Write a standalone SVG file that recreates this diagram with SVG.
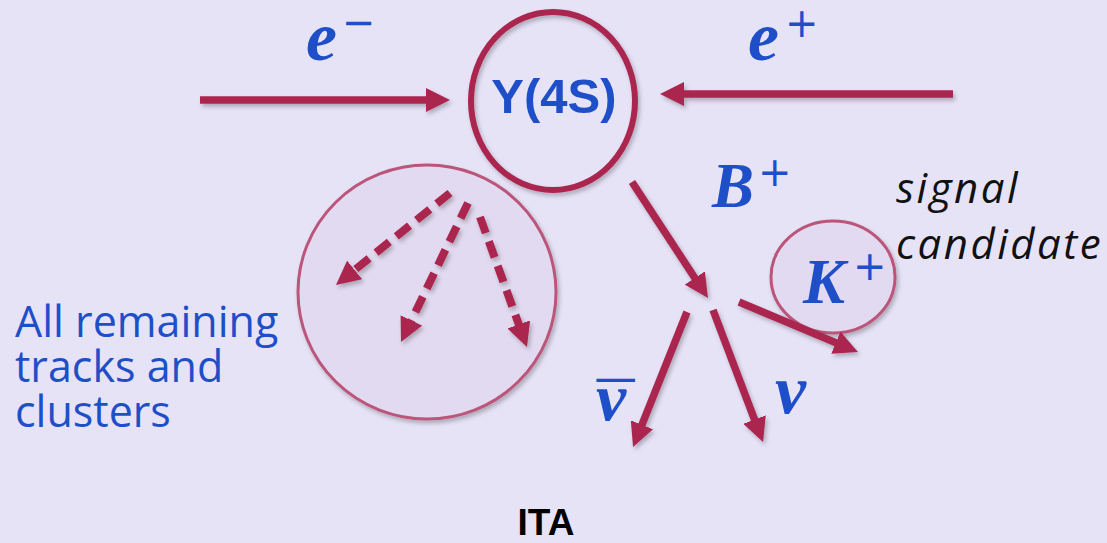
<svg xmlns="http://www.w3.org/2000/svg" width="1107" height="543" viewBox="0 0 1107 543">
  <style>
    .arrow { fill: none; stroke: #ab2650; stroke-width: 7.5; }
    .dash { fill: none; stroke: #ab2650; stroke-width: 8; stroke-dasharray: 17 9; }
    .math { font-family: "Liberation Serif", "Times New Roman", serif; font-weight: bold; font-style: italic; fill: #1e4fc8; }
    .sup { font-family: "DejaVu Sans", sans-serif; font-style: normal; font-weight: normal; fill: #1e4fc8; }
    .label { font-family: "Open Sans", "Noto Sans", sans-serif; fill: #1e4fc8; }
    .note { font-family: "Open Sans", "Noto Sans", sans-serif; font-style: italic; fill: #111111; letter-spacing: 2.5px; }
    .group-circle { fill: #e2daf0; stroke: #bb5579; stroke-width: 3; }
  </style>
  <defs>
    <filter id="shadow" x="-20%" y="-20%" width="140%" height="140%">
      <feDropShadow dx="2" dy="3" stdDeviation="2" flood-color="#000000" flood-opacity="0.25"/>
    </filter>
    <marker id="head" viewBox="0 0 10 10" refX="5" refY="5" markerWidth="24" markerHeight="24" markerUnits="userSpaceOnUse" orient="auto">
      <path d="M0,0 L10,5 L0,10 z" fill="#ab2650"/>
    </marker>
  </defs>
  <rect width="1107" height="543" fill="#e6e3f7"/>

  <g id="remaining" filter="url(#shadow)">
    <ellipse class="group-circle" cx="427" cy="292" rx="129" ry="127"/>
  </g>
  <g id="kaon" filter="url(#shadow)">
    <ellipse class="group-circle" cx="833" cy="277" rx="62" ry="56"/>
  </g>
  <g id="upsilon" filter="url(#shadow)">
    <ellipse cx="553" cy="101" rx="82" ry="89" fill="none" stroke="#ab2650" stroke-width="6"/>
  </g>

  <g id="connectors" filter="url(#shadow)">
    <line class="arrow" x1="200" y1="100" x2="438" y2="100" marker-end="url(#head)"/>
    <line class="arrow" x1="953" y1="94" x2="672" y2="94" marker-end="url(#head)"/>
    <line class="arrow" x1="632" y1="182" x2="701.4" y2="288" marker-end="url(#head)"/>
    <line class="arrow" x1="687" y1="312" x2="637.5" y2="435.9" marker-end="url(#head)"/>
    <line class="arrow" x1="713" y1="310" x2="758.8" y2="430.8" marker-end="url(#head)"/>
    <line class="arrow" x1="739" y1="302" x2="846.9" y2="347.4" marker-end="url(#head)"/>
    <line class="dash" x1="450" y1="193" x2="345.3" y2="277.5" marker-end="url(#head)"/>
    <line class="dash" x1="468" y1="203" x2="406.2" y2="331.2" marker-end="url(#head)"/>
    <line class="dash" x1="480" y1="217" x2="522.9" y2="335.7" marker-end="url(#head)"/>
  </g>

  <g id="labels">
    <text x="554" y="113" font-family="Liberation Sans, Arial, sans-serif" font-weight="bold" font-size="49" fill="#1e4fc8" text-anchor="middle">Υ(4S)</text>

    <text class="math" x="306" y="60" font-size="70">e<tspan class="sup" x="342" y="36" font-size="40">−</tspan></text>

    <text class="math" x="748" y="60" font-size="70">e<tspan class="sup" x="785" y="37" font-size="40">+</tspan></text>

    <text class="math" x="712" y="207" font-size="63">B<tspan class="sup" x="758" y="186" font-size="40">+</tspan></text>

    <text class="math" x="803" y="303" font-size="63">K<tspan class="sup" x="853" y="280" font-size="40">+</tspan></text>

    <text class="math" x="596" y="420" font-size="68">ν<tspan font-family="Liberation Sans, Arial, sans-serif" font-style="normal" x="597" y="431" font-size="68">¯</tspan></text>
    <text class="math" x="775" y="413" font-size="70">ν</text>

    <text class="note" font-size="42"><tspan x="896" y="203">signal</tspan><tspan x="896" y="259">candidate</tspan></text>

    <text class="label" font-size="43"><tspan x="15" y="337">All remaining</tspan><tspan x="15" y="382">tracks and</tspan><tspan x="15" y="427">clusters</tspan></text>

    <text x="546" y="535" font-family="Liberation Sans, Arial, sans-serif" font-weight="bold" font-size="37" fill="#000000" text-anchor="middle">ITA</text>
  </g>
</svg>
